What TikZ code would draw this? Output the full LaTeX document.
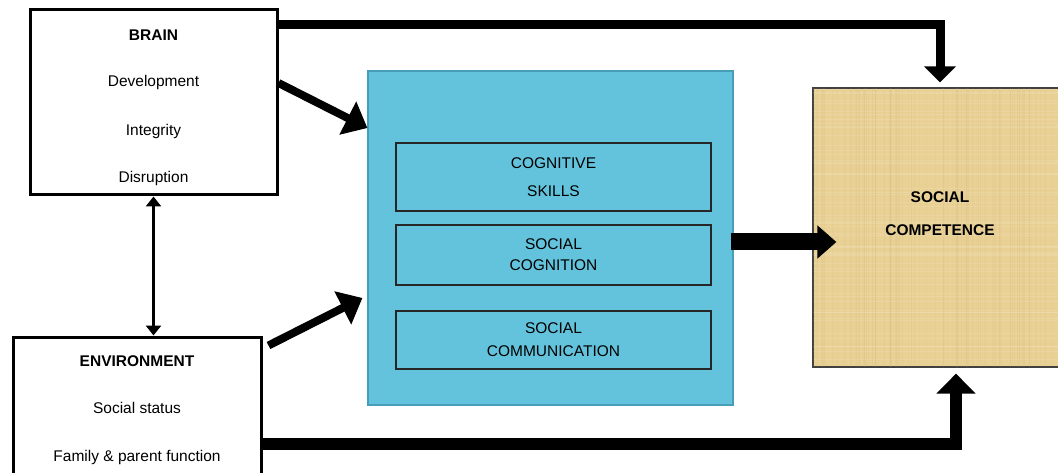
\documentclass[tikz,border=0pt]{standalone}
\usepackage{fontspec}
\setmainfont{Liberation Sans}
\definecolor{skyblue}{RGB}{99,195,220}
\definecolor{skyedge}{RGB}{70,158,184}
\definecolor{sand}{RGB}{233,209,150}
\definecolor{sanddark}{RGB}{196,168,108}
\usetikzlibrary{arrows.meta,positioning,calc}

\tikzset{
  outerbox/.style={draw=black, line width=3pt, fill=white, inner sep=0pt},
  innerbox/.style={draw=black!85, line width=1.3pt, minimum width=315pt, inner sep=0pt,
    align=center, font=\fontsize{15.5}{18}\selectfont},
  lbl/.style={font=\fontsize{15.5}{18}\selectfont, inner sep=0pt, align=center},
}

\begin{document}
\begin{tikzpicture}[x=1pt, y=-1pt]
  \useasboundingbox (0,0) rectangle (1058,473);
  \clip (0,0) rectangle (1058,473);

  % Left boxes
  \node[outerbox, minimum width=247pt, minimum height=185pt] (brain) at (153.5,102.5) {};
  \node[outerbox, minimum width=248pt, minimum height=145pt] (env) at (137,409.5) {};

  \node[lbl, font=\fontsize{15.5}{18}\selectfont\bfseries] (brainT) at (153.5,35) {BRAIN};
  \node[lbl] (dev) at (153.5,82) {Development};
  \node[lbl] (integ) at (153.5,131) {Integrity};
  \node[lbl] (disr) at (153.5,178) {Disruption};

  \node[lbl, font=\fontsize{15.5}{18}\selectfont\bfseries] (envT) at (137,361) {ENVIRONMENT};
  \node[lbl] (status) at (137,408) {Social status};
  \node[lbl] (family) at (137,457) {Family \& parent function};

  % Middle block
  \node[draw=skyedge, line width=1.2pt, fill=skyblue, minimum width=365pt, minimum height=334pt] (skills) at (550.5,238) {};
  \node[innerbox, minimum height=68pt] (cog) at (553.5,177) {COGNITIVE\\[10pt]SKILLS};
  \node[innerbox, minimum height=60pt] (socog) at (553.5,255) {SOCIAL\\[3pt]COGNITION};
  \node[innerbox, minimum height=58pt] (socom) at (553.5,340) {SOCIAL\\[5pt]COMMUNICATION};

  % Outcome block, woven texture
  \node[draw=black!75, line width=1.2pt, fill=sand, minimum width=254pt, minimum height=279pt] (comp) at (940,227.5) {};
  \begin{scope}
    \clip ([shift={(1pt,-1pt)}]comp.south west) rectangle ([shift={(-1pt,1pt)}]comp.north east);
    \pgfmathsetseed{11}
    \foreach \i in {1,...,110} {
      \pgfmathsetmacro\xx{813+254*rnd}
      \pgfmathsetmacro\op{0.04+0.10*rnd}
      \draw[sanddark, opacity=\op, line width=0.8pt] (\xx,88) -- (\xx,367);
    }
    \foreach \i in {1,...,60} {
      \pgfmathsetmacro\yy{88+279*rnd}
      \draw[white, opacity=0.10, line width=0.7pt] (813,\yy) -- (1067,\yy);
    }
  \end{scope}
  \node[lbl, font=\fontsize{15.5}{18}\selectfont\bfseries] (compT) at (940,213.5) {SOCIAL\\[15pt]COMPETENCE};

  % Connectors
  \draw[line width=2.5pt, {Triangle[length=10pt,width=15pt]}-{Triangle[length=10pt,width=15pt]}]
    (brain.south) -- (brain.south |- env.north);
  \draw[line width=8pt, -{Triangle[length=22pt,width=36pt]}]
    ([yshift=19.5pt]brain.east) -- ([yshift=110pt]skills.west);
  \draw[line width=8pt, -{Triangle[length=22pt,width=36pt]}]
    ([shift={(6pt,-10pt)}]env.north east) -- ([shift={(-5pt,-60pt)}]skills.west);
  \draw[line width=9pt, -{Triangle[length=16pt,width=31pt]}, shorten >=5pt]
    ([yshift=-16pt]brain.north east) -| (comp.north);
  \draw[line width=12pt, -{Triangle[length=20pt,width=38pt]}, shorten >=6pt]
    ([yshift=-34.5pt]env.east) -| ([xshift=16pt]comp.south);
  \draw[line width=17pt, -{Triangle[length=19pt,width=32pt]}, shorten >=-24pt, shorten <=-3pt]
    ([yshift=-4pt]skills.east) -- ([yshift=-4pt]skills.east -| comp.west);
\end{tikzpicture}
\end{document}
